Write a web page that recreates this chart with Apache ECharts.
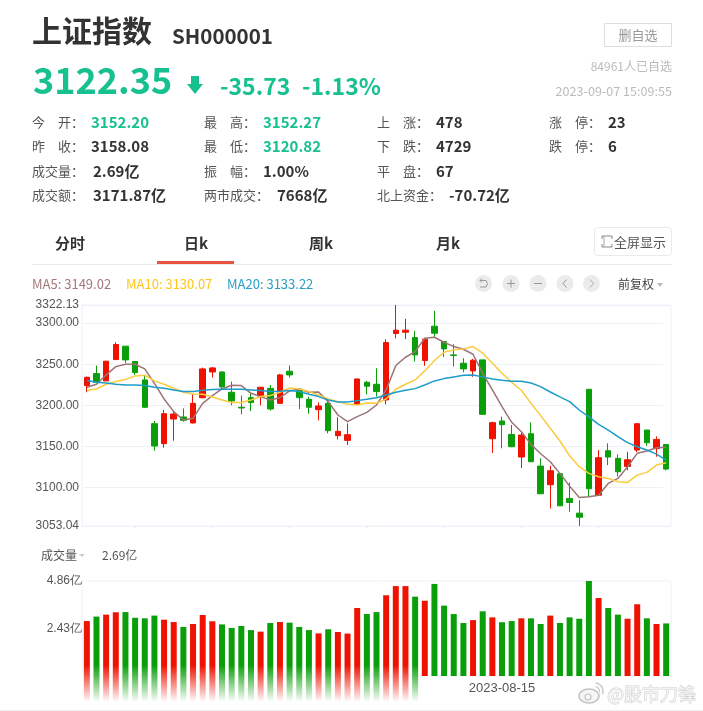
<!DOCTYPE html>
<html>
<head>
<meta charset="utf-8">
<style>html,body{margin:0;padding:0;background:#fff}#boot{width:703px;height:711px}</style>
<script src="https://cdn.jsdelivr.net/npm/echarts@6/dist/echarts.min.js"></script>
</head>
<body>
<div id="boot"></div>
<script>
var dates = ['2023-06-13','2023-06-14','2023-06-15','2023-06-16','2023-06-19','2023-06-20','2023-06-21','2023-06-26','2023-06-27','2023-06-28','2023-06-29','2023-06-30',
  '2023-07-03','2023-07-04','2023-07-05','2023-07-06','2023-07-07','2023-07-10','2023-07-11','2023-07-12','2023-07-13','2023-07-14','2023-07-17','2023-07-18','2023-07-19','2023-07-20','2023-07-21','2023-07-24','2023-07-25','2023-07-26','2023-07-27','2023-07-28','2023-07-31',
  '2023-08-01','2023-08-02','2023-08-03','2023-08-04','2023-08-07','2023-08-08','2023-08-09','2023-08-10','2023-08-11','2023-08-14','2023-08-15','2023-08-16','2023-08-17','2023-08-18','2023-08-21','2023-08-22','2023-08-23','2023-08-24','2023-08-25','2023-08-28','2023-08-29','2023-08-30','2023-08-31',
  '2023-09-01','2023-09-04','2023-09-05','2023-09-06','2023-09-07'];
// open, close, low, high
var kline = [
  [3224,3234.1,3215.9,3235],[3238.6,3228,3226.8,3248.4],[3229.7,3253.7,3229.7,3253.7],[3255.7,3274,3255,3276.8],[3272,3255.3,3251.6,3272],
  [3253.3,3239.8,3237,3253.3],[3230.9,3197.6,3197,3237],[3177.6,3150.4,3144.7,3180.9],[3153.3,3189.8,3148.4,3194.3],[3183.3,3189.4,3156.9,3192.3],
  [3185.8,3181.7,3180.1,3196.3],[3178.5,3202.4,3178,3213.4],[3209.3,3244.3,3208.5,3245.9],[3240.6,3245.5,3233.7,3246.7],[3240.6,3222.4,3218.7,3241.5],
  [3215.9,3205.3,3200,3228.9],[3197.6,3196.7,3189,3211.8],[3209.3,3203.3,3193,3214.6],[3211.4,3222,3200,3222],[3220.7,3195.5,3193.5,3224.8],
  [3202.4,3237,3202,3238.2],[3241.5,3237,3233.7,3248.4],[3219.5,3209.3,3195.5,3220.7],[3207.3,3197.6,3189.8,3210.6],[3194.7,3199.2,3181.7,3203.7],
  [3202.4,3169.1,3165.9,3208.5],[3163,3168.3,3158.5,3185.4],[3157.3,3164.2,3151.6,3178],[3201.2,3232.1,3201.2,3232.1],[3228,3223.2,3213.4,3229.7],
  [3225.6,3216.7,3210.6,3245.1],[3206.5,3276.4,3201.2,3280.5],[3287.4,3291.5,3281.7,3322.13],[3289,3291.5,3280.5,3305.3],[3282.5,3261.4,3253.3,3290.7],
  [3254.5,3280.5,3248,3281.7],[3296.3,3287.8,3282.5,3315],[3277.6,3268.7,3259,3277.6],[3261.4,3260.6,3247.2,3274.4],[3251.2,3244.3,3240.2,3257.3],
  [3241.9,3254.9,3234.6,3256.5],[3255.3,3189,3189,3255.3],[3159.3,3178.9,3141.9,3180],[3180.9,3176.4,3147.6,3186.2],[3164.6,3149.6,3149,3176],
  [3137,3163.8,3123.6,3167],[3165.4,3131.3,3131,3179.3],[3126,3092.3,3092,3135.4],[3103.3,3120.3,3074.4,3126.4],[3116.7,3077.6,3077.6,3117.5],
  [3086.6,3081.7,3070.3,3106],[3068.7,3063.8,3053.04,3084.6],[3219.5,3098.4,3088.6,3219.5],[3090.6,3136.2,3090.6,3145.5],[3144.7,3137,3127.2,3153.7],
  [3135.4,3119.1,3113.4,3140.2],[3125.6,3133.7,3121,3143.5],[3145.5,3177.6,3143.1,3177.6],[3169.9,3154.5,3150.8,3169.9],[3147.2,3158.5,3137.4,3162.2],
  [3152.2,3122.35,3120.82,3152.27]
];
var ma5 = [3221.9,3225.6,3237,3247.1,3250,3250,3244.3,3226.8,3207.7,3192.3,3182.1,3184.1,3202.4,3211.8,3219.9,3224.4,3224,3214.6,3210.6,3206.5,3209.3,3217.5,3219.9,3215.9,3216.3,3204.5,3188.2,3180.1,3186.2,
  3191.4,3200.4,3218.7,3248.4,3258.5,3265.4,3281.7,3282.9,3276.8,3271.5,3268.3,3262.2,3239,3218.7,3198.4,3179.3,3167.9,3152.4,3141,3131.3,3117.1,3101.6,3087.8,3088.6,3090.6,3104.9,3111,3125.2,3141.5,3144.3,3148.4,3149.02];
var ma10 = [3217.9,3219.9,3225.6,3228.9,3231.3,3235.8,3236.6,3229.7,3225.6,3220.7,3215.9,3213.8,3213.4,3210.2,3206.5,3203.3,3203.3,3206.5,3210.6,3211.8,3215.9,3221.1,3219.9,3216.7,3212.6,3207.7,3204.5,3201.2,3200.4,
  3202.8,3202.4,3207.7,3219.5,3225.6,3230.9,3241.9,3254.5,3264.6,3267.5,3268.7,3271.5,3263.4,3251.2,3239,3228,3218.3,3202.4,3187.4,3172,3156.5,3138.6,3125.2,3117.1,3113,3111,3106.9,3106.1,3115,3118.3,3127.2,3130.07];
var ma20 = [3230.1,3228,3227.2,3225.6,3224.8,3224.8,3224,3222,3220.7,3218.7,3216.7,3216.7,3218.3,3219.1,3219.5,3219.5,3219.5,3218.7,3217.9,3216.7,3217,3217.9,3216.7,3213.4,3210.6,3206.5,3204.1,3204.1,3205.7,
  3207.3,3209.3,3212.6,3215.9,3218.3,3220.3,3224.8,3229.7,3232.5,3234.6,3236.6,3237,3234.6,3232.1,3230.5,3229.3,3229.3,3227.2,3222.8,3216.2,3210.2,3204.5,3194.3,3185.8,3176.8,3169.9,3161.8,3154.5,3149.6,3145.5,3140.6,3133.22];
var volumes = [2.81,3.04,3.14,3.26,3.27,2.98,2.95,3.09,2.88,2.76,2.51,2.66,3.12,2.80,2.64,2.46,2.56,2.35,2.27,2.71,2.76,2.73,2.51,2.35,2.18,2.39,2.25,2.17,3.48,
  3.17,3.27,4.13,4.60,4.60,4.06,3.85,4.71,3.60,3.17,2.71,2.86,3.31,3.00,2.75,2.81,2.95,2.95,2.66,3.09,2.71,3.00,2.93,4.86,3.99,3.48,3.14,2.93,3.67,2.95,2.66,2.69];
var priceTicks = [3053.04,3100,3150,3200,3250,3300,3322.13];
var volumeTicks = [2.43,4.86];
var dateLabels = ['2023-08-15'];
var tickDates = ['2023-06-20','2023-07-04','2023-07-14','2023-07-26','2023-08-07','2023-08-17','2023-08-29'];

var RED = '#ee1200', GREEN = '#0a9f0a', QUOTE = '#17c08f', INK = '#333', LINE = '#eef1f7';
var CJK = '"Noto Sans CJK SC","Noto Sans",sans-serif';

function txt(x, y, text, size, color, weight, align) {
  return {type: 'text', x: x, y: y, z: 50, style: {text: text, fontSize: size, fill: color, fontWeight: weight || 'normal',
    fontFamily: CJK, align: align || 'left', verticalAlign: 'middle'}};
}
function seg(x1, y1, x2, y2, color, w) {
  return {type: 'line', z: 50, shape: {x1: x1, y1: y1, x2: x2, y2: y2}, style: {stroke: color, lineWidth: w || 1}};
}
function poly(points, color, w) {
  return {type: 'polyline', z: 52, shape: {points: points}, style: {fill: 'none', stroke: color, lineWidth: w || 1}};
}
var quoteRows = [
  [32, 122, '今　开：', '3152.20', 91, QUOTE], [204, 122, '最　高：', '3152.27', 263, QUOTE], [377, 122, '上　涨：', '478', 436, INK], [549, 122, '涨　停：', '23', 608, INK],
  [32, 146, '昨　收：', '3158.08', 91, INK], [204, 146, '最　低：', '3120.82', 263, QUOTE], [377, 146, '下　跌：', '4729', 436, INK], [549, 146, '跌　停：', '6', 608, INK],
  [32, 171, '成交量：', '2.69亿', 93, INK], [204, 171, '振　幅：', '1.00%', 263, INK], [377, 171, '平　盘：', '67', 436, INK],
  [32, 195, '成交额：', '3171.87亿', 93, INK], [204, 195, '两市成交：', '7668亿', 277, INK], [377, 195, '北上资金：', '-70.72亿', 449, INK]
];
var gfx = [
  txt(32, 31, '上证指数', 30, '#333', 'bold'),
  txt(172, 36, 'SH000001', 20.5, '#333', 'bold'),
  {type: 'rect', z: 50, shape: {x: 604.5, y: 23.5, width: 67, height: 23}, style: {fill: '#fff', stroke: '#ddd'}},
  txt(638, 35, '删自选', 13, '#999', 'normal', 'center'),
  txt(33, 80, '3122.35', 36, QUOTE, 'bold'),
  {type: 'polygon', z: 50, shape: {points: [[191,76],[199,76],[199,84],[203,84],[195,94],[187,84],[191,84]]}, style: {fill: QUOTE}},
  txt(220, 86, '-35.73', 23, QUOTE, 'bold'),
  txt(302, 86, '-1.13%', 23, QUOTE, 'bold'),
  txt(672, 66, '84961人已自选', 12, '#bbb', 'normal', 'right'),
  txt(672, 91, '2023-09-07 15:09:55', 12.6, '#bbb', 'normal', 'right'),
  txt(55, 243, '分时', 15, INK, 'bold'),
  txt(184, 243, '日k', 15, INK, 'bold'),
  txt(309, 243, '周k', 15, INK, 'bold'),
  txt(436, 243, '月k', 15, INK, 'bold'),
  {type: 'rect', z: 50, shape: {x: 157, y: 261, width: 77, height: 3}, style: {fill: '#e8543f'}},
  seg(32, 264.5, 672, 264.5, '#e9e9e9'),
  {type: 'rect', z: 50, shape: {x: 594.5, y: 227.5, width: 77, height: 28, r: 3}, style: {fill: '#fff', stroke: '#eaeaea'}},
  poly([[602,239],[602,236],[612,236],[612,239]], '#888'),
  poly([[602,244],[602,247],[612,247],[612,244]], '#888'),
  poly([[604,236],[604,247]], '#aaa'),
  txt(614, 242, '全屏显示', 13, '#555'),
  txt(32, 284, 'MA5: 3149.02', 13, '#a57878'),
  txt(126, 284, 'MA10: 3130.07', 13, '#ffc61a'),
  txt(227, 284, 'MA20: 3133.22', 13, '#2a9fc4'),
  txt(618, 284, '前复权', 12, '#444'),
  {type: 'polygon', z: 50, shape: {points: [[657,283],[663,283],[660,287]]}, style: {fill: '#bbb'}},
  txt(41, 555, '成交量', 12, '#555'),
  {type: 'polygon', z: 50, shape: {points: [[79,554],[85,554],[82,557]]}, style: {fill: '#ccc'}},
  txt(102, 555, '2.69亿', 12, '#555'),
  // gridlines stop short of the right border
  {type: 'rect', z: 1, shape: {x: 663, y: 306, width: 7, height: 219}, style: {fill: '#fff'}},
  // fade over the lower volume bars
  {type: 'rect', z: 60, shape: {x: 80, y: 665, width: 339, height: 37},
    style: {fill: {type: 'linear', x: 0, y: 0, x2: 0, y2: 1, colorStops: [{offset: 0, color: 'rgba(255,255,255,0)'}, {offset: 1, color: '#fff'}]}}},
  seg(0, 710.5, 703, 710.5, '#f0f0f0'),
  // watermark
  {type: 'text', x: 607, y: 694, z: 70, style: {text: '@股市刀锋', fontSize: 18, fill: '#f4f4f4', fontFamily: CJK, verticalAlign: 'middle',
    stroke: '#cfcfcf', lineWidth: 1, shadowBlur: 3, shadowColor: '#aaa'}},
  {type: 'ellipse', z: 70, shape: {cx: 589, cy: 696, rx: 10, ry: 7}, style: {fill: '#f6f6f6', stroke: '#c4c4c4', lineWidth: 1.5}},
  {type: 'circle', z: 71, shape: {cx: 588, cy: 697, r: 3}, style: {fill: 'none', stroke: '#c4c4c4', lineWidth: 1.2}},
  {type: 'arc', z: 70, shape: {cx: 595, cy: 691, r: 8, startAngle: -1.5, endAngle: 0.4}, style: {fill: 'none', stroke: '#c8c8c8', lineWidth: 1.5}},
  {type: 'arc', z: 70, shape: {cx: 595, cy: 691, r: 4.5, startAngle: -1.5, endAngle: 0.3}, style: {fill: 'none', stroke: '#c8c8c8', lineWidth: 1.2}}
];
var btnX = [483.5, 511, 538, 565, 591.5];
btnX.forEach(function (cx) {
  gfx.push({type: 'circle', z: 50, shape: {cx: cx, cy: 283.5, r: 8.5}, style: {fill: '#ebebeb'}});
});
gfx.push(
  poly([[480,280.5],[486,280.5],[487.5,283.5],[486,287],[480,287]], '#999'),
  poly([[482,278.5],[480,280.5],[482,282.5]], '#999'),
  seg(507, 283.5, 515, 283.5, '#999'), seg(511, 279.5, 511, 287.5, '#999'),
  seg(534, 283.5, 542, 283.5, '#999'),
  poly([[566.5,279.5],[563,283.5],[566.5,287.5]], '#999'),
  poly([[590,279.5],[593.5,283.5],[590,287.5]], '#aaa')
);
quoteRows.forEach(function (r) {
  gfx.push(txt(r[0], r[1], r[2], 13, '#555'));
  gfx.push(txt(r[4], r[1], r[3], 15, r[5], 'bold'));
});

function barColor(i) {
  return kline[i][1] >= kline[i][0] ? RED : GREEN;
}
function maSeries(name, data, color) {
  return {name: name, type: 'line', data: data, smooth: false, symbol: 'none', lineStyle: {width: 1.5, color: color}, z: 5, xAxisIndex: 0, yAxisIndex: 0};
}
var AXIS_FONT = {color: '#555', fontSize: 12, fontFamily: 'Liberation Sans,Arial,sans-serif'};

var myChart = echarts.init(document.getElementById('boot'), null, {renderer: 'canvas'});
var option = {
  animation: false,
  backgroundColor: '#fff',
  graphic: gfx,
  grid: [
    {left: 82, right: 32, top: 305, height: 221, show: true, borderColor: LINE, backgroundColor: 'transparent'},
    {left: 82, right: 32, top: 581, height: 95, show: true, borderColor: LINE, backgroundColor: 'transparent'},
    {left: 82, right: 32, top: 676, height: 26}
  ],
  xAxis: [
    {type: 'category', gridIndex: 0, data: dates, boundaryGap: true, axisLine: {show: false},
      axisTick: {show: true, length: 2, lineStyle: {color: '#e4e8f0'}, alignWithLabel: true, interval: function (i, v) { return tickDates.indexOf(v) >= 0; }},
      axisLabel: {show: false}, splitLine: {show: false}},
    {type: 'category', gridIndex: 1, data: dates, axisLine: {show: false}, axisTick: {show: false},
      axisLabel: {show: false}, splitLine: {show: false}},
    {type: 'category', gridIndex: 2, data: dates, position: 'top', axisLine: {show: false}, axisTick: {show: false},
      axisLabel: {show: true, margin: -19, interval: function (i, v) { return dateLabels.indexOf(v) >= 0; }, color: '#555', fontSize: 13, fontFamily: 'Liberation Sans,Arial,sans-serif'},
      splitLine: {show: false}}
  ],
  yAxis: [
    {type: 'value', gridIndex: 0, min: 3053.04, max: 3322.13, scale: true, axisLine: {show: false},
      axisTick: {show: false, customValues: priceTicks},
      axisLabel: Object.assign({customValues: priceTicks, margin: 3, formatter: function (v) { return v.toFixed(2); }}, AXIS_FONT),
      splitLine: {show: true, lineStyle: {color: LINE}}},
    {type: 'value', gridIndex: 1, min: 0, max: 4.86, axisLine: {show: false},
      axisTick: {show: false, customValues: volumeTicks},
      axisLabel: Object.assign({customValues: volumeTicks, margin: 0, formatter: function (v) { return v.toFixed(2) + '亿'; }}, AXIS_FONT),
      splitLine: {show: false}},
    {type: 'value', gridIndex: 2, min: 0, max: 1, inverse: true, show: false}
  ],
  series: [
    {name: '日k', type: 'candlestick', data: kline, xAxisIndex: 0, yAxisIndex: 0, barWidth: 6, clip: false,
      itemStyle: {color: RED, color0: GREEN, borderColor: RED, borderColor0: GREEN, borderWidth: 1}},
    maSeries('MA5', ma5, '#9c7474'),
    maSeries('MA10', ma10, '#fbcb3d'),
    maSeries('MA20', ma20, '#1d9bc9'),
    {name: '成交量', type: 'bar', xAxisIndex: 1, yAxisIndex: 1, barWidth: 6,
      data: volumes.map(function (v, i) { return {value: v, itemStyle: {color: barColor(i)}}; })},
    {name: 'fade', type: 'bar', xAxisIndex: 2, yAxisIndex: 2, barWidth: 6, silent: true,
      data: volumes.slice(0, 35).map(function (v, i) { return {value: 1, itemStyle: {color: barColor(i)}}; })}
  ]
};
myChart.setOption(option);
</script>
</body>
</html>
